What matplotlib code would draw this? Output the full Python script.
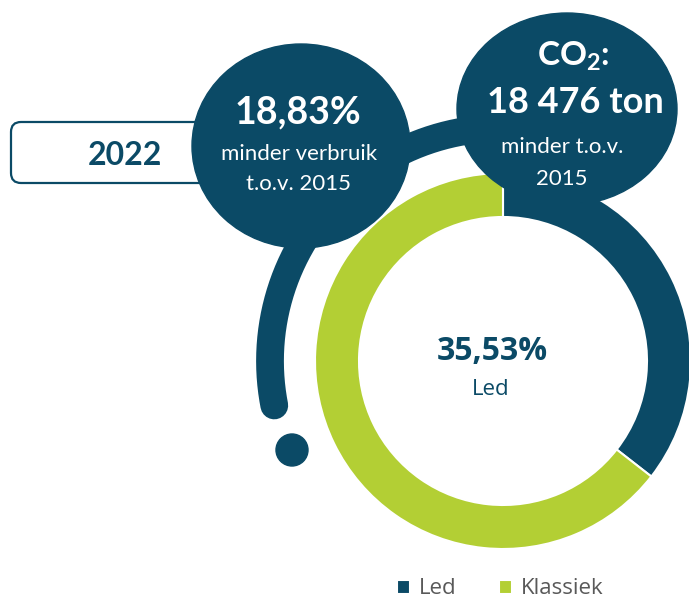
import numpy as np
import matplotlib.pyplot as plt
from matplotlib.patches import Ellipse, Circle, FancyBboxPatch

plt.rcParams["mathtext.fontset"] = "custom"
plt.rcParams["mathtext.rm"] = "Lato"
plt.rcParams["mathtext.bf"] = "Lato:bold"

# data
labels = ["Led", "Klassiek"]
shares = [35.53, 64.47]
center_value = "35,53%"
center_label = "Led"
year = "2022"
usage_value = "18,83%"
usage_lines = ["minder verbruik", "t.o.v. 2015"]
co2_title = r"CO$_{\mathbf{2}}$:"
co2_value = "18 476 ton"
co2_lines = ["minder t.o.v.", "2015"]

DARK = "#0b4a66"
GREEN = "#b3cf34"
GREY = "#595959"

fig = plt.figure(figsize=(6.89, 5.98), dpi=100)
ax = fig.add_axes([0, 0, 1, 1])

# donut (y axis runs downwards, so counterclock in data = clockwise on screen)
cx, cy = 503, 361
wedges, _ = ax.pie(
    shares, colors=[DARK, GREEN], startangle=-90, counterclock=True,
    center=(cx, cy), radius=188,
    wedgeprops=dict(width=44, edgecolor="white", linewidth=1.5),
)
for w in wedges:
    w.set_zorder(2)

# big arc behind the bubbles, with the tail on the left
t = np.radians(np.linspace(78, 191, 300))
R = 233
ax.plot(cx + R * np.cos(t), cy - R * np.sin(t), color=DARK, lw=20,
        solid_capstyle="round", zorder=1)
ax.add_patch(Circle((292, 450), 16, color=DARK, zorder=1))

# year box
ax.add_patch(FancyBboxPatch((11, 122), 240, 61,
                            boxstyle="round,pad=0,rounding_size=10",
                            fc="white", ec=DARK, lw=1.6, zorder=2))
ax.text(125, 165, year, ha="center", va="baseline", fontsize=23,
        fontweight="bold", color=DARK, family="Lato", zorder=5)

# bubbles
ax.add_patch(Ellipse((301, 146), 218, 204, color=DARK, zorder=3))
ax.add_patch(Ellipse((567, 109), 220, 192, color=DARK, zorder=3))

ax.text(298, 123, usage_value, ha="center", va="baseline", fontsize=27,
        fontweight="bold", color="white", family="Lato", zorder=5)
ax.text(299, 160, usage_lines[0], ha="center", va="baseline", fontsize=16,
        color="white", family="Lato", zorder=5)
ax.text(299, 190, usage_lines[1], ha="center", va="baseline", fontsize=16,
        color="white", family="Lato", zorder=5)

ax.text(573, 65, co2_title, ha="center", va="baseline", fontsize=24,
        fontweight="bold", color="white", family="Lato", zorder=5)
ax.text(575, 113, co2_value, ha="center", va="baseline", fontsize=26,
        fontweight="bold", color="white", family="Lato", zorder=5)
ax.text(562, 153, co2_lines[0], ha="center", va="baseline", fontsize=16,
        color="white", family="Lato", zorder=5)
ax.text(562, 185, co2_lines[1], ha="center", va="baseline", fontsize=16,
        color="white", family="Lato", zorder=5)

# centre of the donut
ax.text(492, 360, center_value, ha="center", va="baseline", fontsize=23,
        fontweight="bold", color=DARK, family="Open Sans", zorder=5)
ax.text(491, 395, center_label, ha="center", va="baseline", fontsize=16,
        color=DARK, family="Open Sans", zorder=5)

leg = ax.legend(wedges, labels, loc="center", bbox_to_anchor=(500 / 689, 1 - 589 / 598),
                ncol=2, frameon=False, handlelength=0.6, handleheight=0.6,
                handletextpad=0.4, columnspacing=1.9, borderpad=0,
                prop={"family": "Open Sans", "size": 16}, labelcolor=GREY)

ax.set_xlim(0, 689)
ax.set_ylim(598, 0)
ax.set_aspect("equal")
ax.axis("off")

fig.savefig("out.png", dpi=100)
